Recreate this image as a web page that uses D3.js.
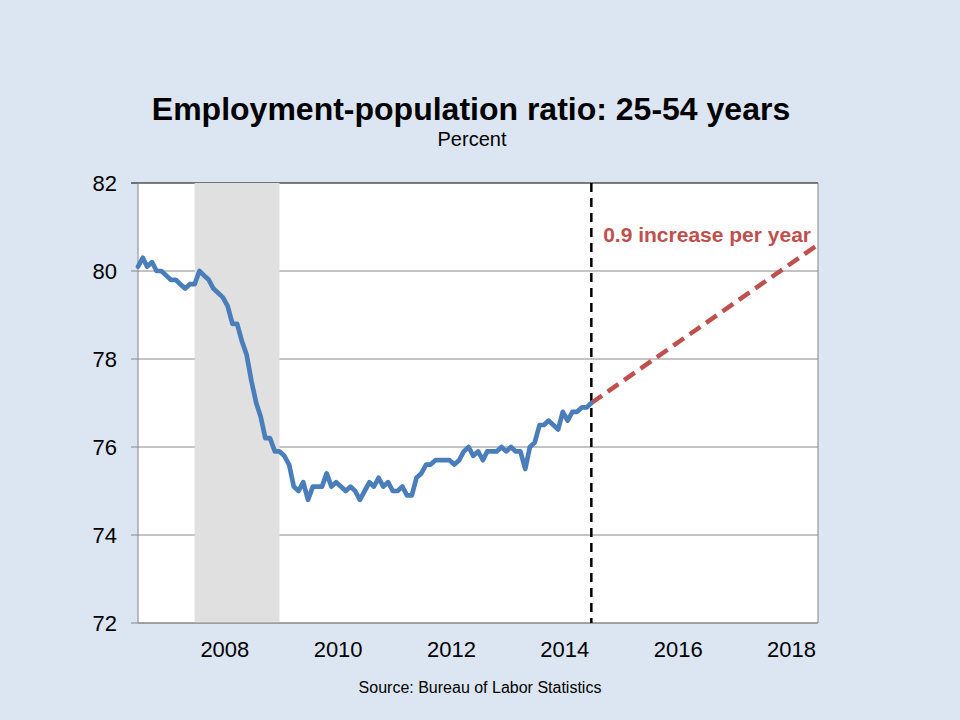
<!DOCTYPE html>
<html>
<head>
<meta charset="utf-8">
<script src="https://cdn.jsdelivr.net/npm/d3@7"></script>
<style>
    body { margin: 0; background: #dce6f2; }
    svg { display: block; font-family: Arial, "Liberation Sans", sans-serif; }
</style>
</head>
<body>
<svg id="chart" width="960" height="720"></svg>
<script>
// Monthly employment-population ratio, 25-54 years, Jan 2007 .. Jan 2015
const startYear = 2007;
const ratioValues = [
    80.1, 80.3, 80.1, 80.2, 80.0, 80.0, 79.9, 79.8, 79.8, 79.7, 79.6, 79.7, 79.7,
    80.0, 79.9, 79.8, 79.6, 79.5, 79.4, 79.2, 78.8, 78.8, 78.4, 78.1, 77.5, 77.0,
    76.7, 76.2, 76.2, 75.9, 75.9, 75.8, 75.6, 75.1, 75.0, 75.2, 74.8,
    75.1, 75.1, 75.1, 75.4, 75.1, 75.2, 75.1, 75.0, 75.1, 75.0, 74.8,
    75.0,
    75.2, 75.1, 75.3, 75.1, 75.2, 75.0, 75.0, 75.1, 74.9, 74.9, 75.3, 75.4, 75.6,
    75.6, 75.7, 75.7, 75.7, 75.7, 75.6, 75.7, 75.9, 76.0, 75.8, 75.9, 75.7,
    75.9, 75.9, 75.9, 76.0, 75.9, 76.0, 75.9, 75.9, 75.5, 76.0, 76.1, 76.5, 76.5,
    76.6, 76.5, 76.4, 76.8, 76.6, 76.8, 76.8, 76.9, 76.9, 77.0
];

// 0.9 per year projection, drawn from the last observation to end of 2018
const projection = [
    { date: new Date(2015, 0, 1), value: 77.0 },
    { date: new Date(2019, 0, 1), value: 80.6 }
];

const recession = [new Date(2008, 0, 1), new Date(2009, 6, 1)];
const todayLine = new Date(2015, 0, 1);

const yearLabels = [2008, 2010, 2012, 2014, 2016, 2018];
const yTicks = [72, 74, 76, 78, 80, 82];

const svg = d3.select('#chart');
const plot = { left: 138, top: 183, width: 680, height: 440 };

const x = d3.scaleTime()
    .domain([new Date(2007, 0, 1), new Date(2019, 0, 1)])
    .range([plot.left, plot.left + plot.width]);
const y = d3.scaleLinear()
    .domain([72, 82])
    .range([plot.top + plot.height, plot.top]);

const series = ratioValues.map((v, i) => ({ date: new Date(startYear, i, 1), value: v }));

// background of the plot
svg.append('rect')
    .attr('x', plot.left).attr('y', plot.top)
    .attr('width', plot.width).attr('height', plot.height)
    .attr('fill', '#fff');

// gridlines + tick marks on the left
svg.append('g')
    .selectAll('line')
    .data(yTicks.filter(t => t !== 82))
    .join('line')
    .attr('x1', plot.left - 7).attr('x2', plot.left + plot.width)
    .attr('y1', d => y(d)).attr('y2', d => y(d))
    .attr('stroke', '#868686').attr('stroke-width', 1);

// top border is dark
svg.append('line')
    .attr('x1', plot.left - 7).attr('x2', plot.left + plot.width)
    .attr('y1', y(82)).attr('y2', y(82))
    .attr('stroke', '#000').attr('stroke-width', 1);

// recession shading
svg.append('rect')
    .attr('x', x(recession[0])).attr('y', plot.top)
    .attr('width', x(recession[1]) - x(recession[0]))
    .attr('height', plot.height)
    .attr('fill', '#e0e0e0');

// left, right and bottom borders
svg.append('path')
    .attr('d', `M${plot.left},${plot.top} V${plot.top + plot.height} H${plot.left + plot.width} V${plot.top}`)
    .attr('fill', 'none')
    .attr('stroke', '#868686').attr('stroke-width', 1);

// y tick labels
svg.append('g')
    .selectAll('text')
    .data(yTicks)
    .join('text')
    .attr('x', 117)
    .attr('y', d => y(d))
    .attr('dy', '0.36em')
    .attr('text-anchor', 'end')
    .attr('font-size', 22)
    .text(d => d);

// x labels, centred on each year
svg.append('g')
    .selectAll('text')
    .data(yearLabels)
    .join('text')
    .attr('x', d => x(new Date(d, 6, 1)))
    .attr('dx', 2)
    .attr('y', 657)
    .attr('text-anchor', 'middle')
    .attr('font-size', 22)
    .text(d => d);

// vertical dashed marker
svg.append('line')
    .attr('x1', x(todayLine)).attr('x2', x(todayLine))
    .attr('y1', plot.top).attr('y2', plot.top + plot.height)
    .attr('stroke', '#000').attr('stroke-width', 2.5)
    .attr('stroke-dasharray', '9,6');

const line = d3.line()
    .x(d => x(d.date))
    .y(d => y(d.value));

// projection
svg.append('path')
    .datum(projection)
    .attr('d', line)
    .attr('fill', 'none')
    .attr('stroke', '#c0504d')
    .attr('stroke-width', 4.5)
    .attr('stroke-dasharray', '13,7');

// actual data
svg.append('path')
    .datum(series)
    .attr('d', line)
    .attr('fill', 'none')
    .attr('stroke', '#4a7ebb')
    .attr('stroke-width', 4.7)
    .attr('stroke-linejoin', 'round')
    .attr('stroke-linecap', 'round');

svg.append('text')
    .attr('x', 811).attr('y', 242)
    .attr('text-anchor', 'end')
    .attr('font-size', 21).attr('font-weight', 'bold')
    .attr('fill', '#c0504d')
    .text('0.9 increase per year');

// titles
svg.append('text')
    .attr('x', 471).attr('y', 120)
    .attr('text-anchor', 'middle')
    .attr('font-size', 32).attr('font-weight', 'bold')
    .text('Employment-population ratio: 25-54 years');

svg.append('text')
    .attr('x', 472).attr('y', 146)
    .attr('text-anchor', 'middle')
    .attr('font-size', 20)
    .text('Percent');

svg.append('text')
    .attr('x', 480).attr('y', 693)
    .attr('text-anchor', 'middle')
    .attr('font-size', 16)
    .text('Source: Bureau of Labor Statistics');
</script>
</body>
</html>
